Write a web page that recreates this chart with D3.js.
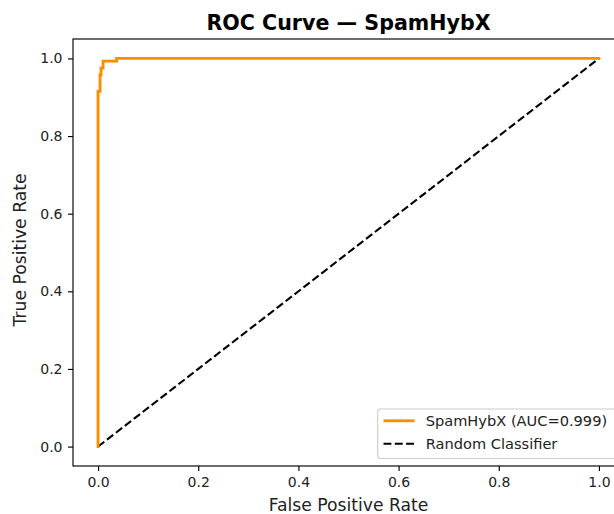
<!DOCTYPE html>
<html>
<head>
<meta charset="utf-8">
<script src="https://cdn.jsdelivr.net/npm/d3@7"></script>
<style>
  html, body { margin: 0; padding: 0; background: #fff; }
  svg { display: block; font-family: "DejaVu Sans", sans-serif; }
</style>
</head>
<body>
<div id="chart"></div>
<script>
// ROC points for the model (step curve)
const fpr = [0, 0, 0.004, 0.004, 0.006, 0.006, 0.010, 0.010, 0.037, 0.037, 1.0]
const tpr = [0, 0.915, 0.915, 0.958, 0.958, 0.975, 0.975, 0.993, 0.993, 1.0, 1.0]

// chance line
const chanceX = [0, 1]
const chanceY = [0, 1]

const xTicks = [0, 0.2, 0.4, 0.6, 0.8, 1.0]
const yTicks = [0, 0.2, 0.4, 0.6, 0.8, 1.0]

const legendLabels = ["SpamHybX (AUC=0.999)", "Random Classifier"]

const width = 614
const height = 514
// axes box (right edge runs past the window)
const axLeft = 73, axTop = 39, axRight = 624, axBottom = 466

const svg = d3.select("#chart")
    .append("svg")
    .attr("width", width)
    .attr("height", height)

const xScale = d3.scaleLinear().domain([-0.05, 1.05]).range([axLeft, axRight])
const yScale = d3.scaleLinear().domain([-0.05, 1.05]).range([axBottom, axTop])

const line = d3.line()
    .x(d => xScale(d[0]))
    .y(d => yScale(d[1]))

// x axis
const xAxis = d3.axisBottom(xScale)
    .tickValues(xTicks)
    .tickFormat(d3.format(".1f"))
    .tickSize(5)
    .tickPadding(6.5)

const gx = svg.append("g")
    .attr("transform", "translate(0," + axBottom + ")")
    .call(xAxis)
gx.select(".domain").remove()

// y axis
const yAxis = d3.axisLeft(yScale)
    .tickValues(yTicks)
    .tickFormat(d3.format(".1f"))
    .tickSize(5)
    .tickPadding(5.5)

const gy = svg.append("g")
    .attr("transform", "translate(" + axLeft + ",0)")
    .call(yAxis)
gy.select(".domain").remove()

svg.selectAll(".tick line").attr("stroke", "#000").attr("stroke-width", 1.15)
svg.selectAll(".tick text")
    .attr("fill", "#222")
    .attr("font-size", "14px")
    .attr("font-family", "DejaVu Sans")

// chance diagonal
svg.append("path")
    .datum(chanceX.map((x, i) => [x, chanceY[i]]))
    .attr("d", line)
    .attr("fill", "none")
    .attr("stroke", "#000")
    .attr("stroke-width", 2.1)
    .attr("stroke-dasharray", "7.9,3.4")

// ROC curve
svg.append("path")
    .datum(fpr.map((x, i) => [x, tpr[i]]))
    .attr("d", line)
    .attr("fill", "none")
    .attr("stroke", "#ff8c00")
    .attr("stroke-width", 2.86)
    .attr("stroke-linecap", "square")

// spines
svg.append("rect")
    .attr("x", axLeft)
    .attr("y", axTop)
    .attr("width", axRight - axLeft)
    .attr("height", axBottom - axTop)
    .attr("fill", "none")
    .attr("stroke", "#000")
    .attr("stroke-width", 1.15)

// title and axis labels
svg.append("text")
    .text("ROC Curve — SpamHybX")
    .attr("x", (axLeft + axRight) / 2)
    .attr("y", 29.5)
    .attr("text-anchor", "middle")
    .attr("font-size", "20.6px")
    .attr("font-weight", "bold")
    .attr("fill", "#000")

svg.append("text")
    .text("False Positive Rate")
    .attr("x", (axLeft + axRight) / 2)
    .attr("y", 511)
    .attr("text-anchor", "middle")
    .attr("font-size", "17.2px")
    .attr("fill", "#222")

svg.append("text")
    .text("True Positive Rate")
    .attr("transform", "translate(26,250) rotate(-90)")
    .attr("text-anchor", "middle")
    .attr("font-size", "17.2px")
    .attr("fill", "#222")

// legend, lower right
const legend = svg.append("g")
legend.append("rect")
    .attr("x", 377.7)
    .attr("y", 409)
    .attr("width", 238)
    .attr("height", 49.5)
    .attr("rx", 3)
    .attr("fill", "#fff")
    .attr("fill-opacity", 0.8)
    .attr("stroke", "#ccc")
    .attr("stroke-width", 1.1)

const legendStyles = [
    {color: "#ff8c00", width: 2.86, dash: null},
    {color: "#000", width: 2.1, dash: "7.9,3.4"}
]
legendLabels.forEach((label, i) => {
    const y = 420.8 + i * 23
    legend.append("line")
        .attr("x1", 383.5).attr("x2", 414.5)
        .attr("y1", y).attr("y2", y)
        .attr("stroke", legendStyles[i].color)
        .attr("stroke-width", legendStyles[i].width)
        .attr("stroke-dasharray", legendStyles[i].dash)
    legend.append("text")
        .text(label)
        .attr("x", 425.7)
        .attr("y", y + 5.2)
        .attr("font-size", "14.6px")
        .attr("fill", "#222")
})
</script>
</body>
</html>
